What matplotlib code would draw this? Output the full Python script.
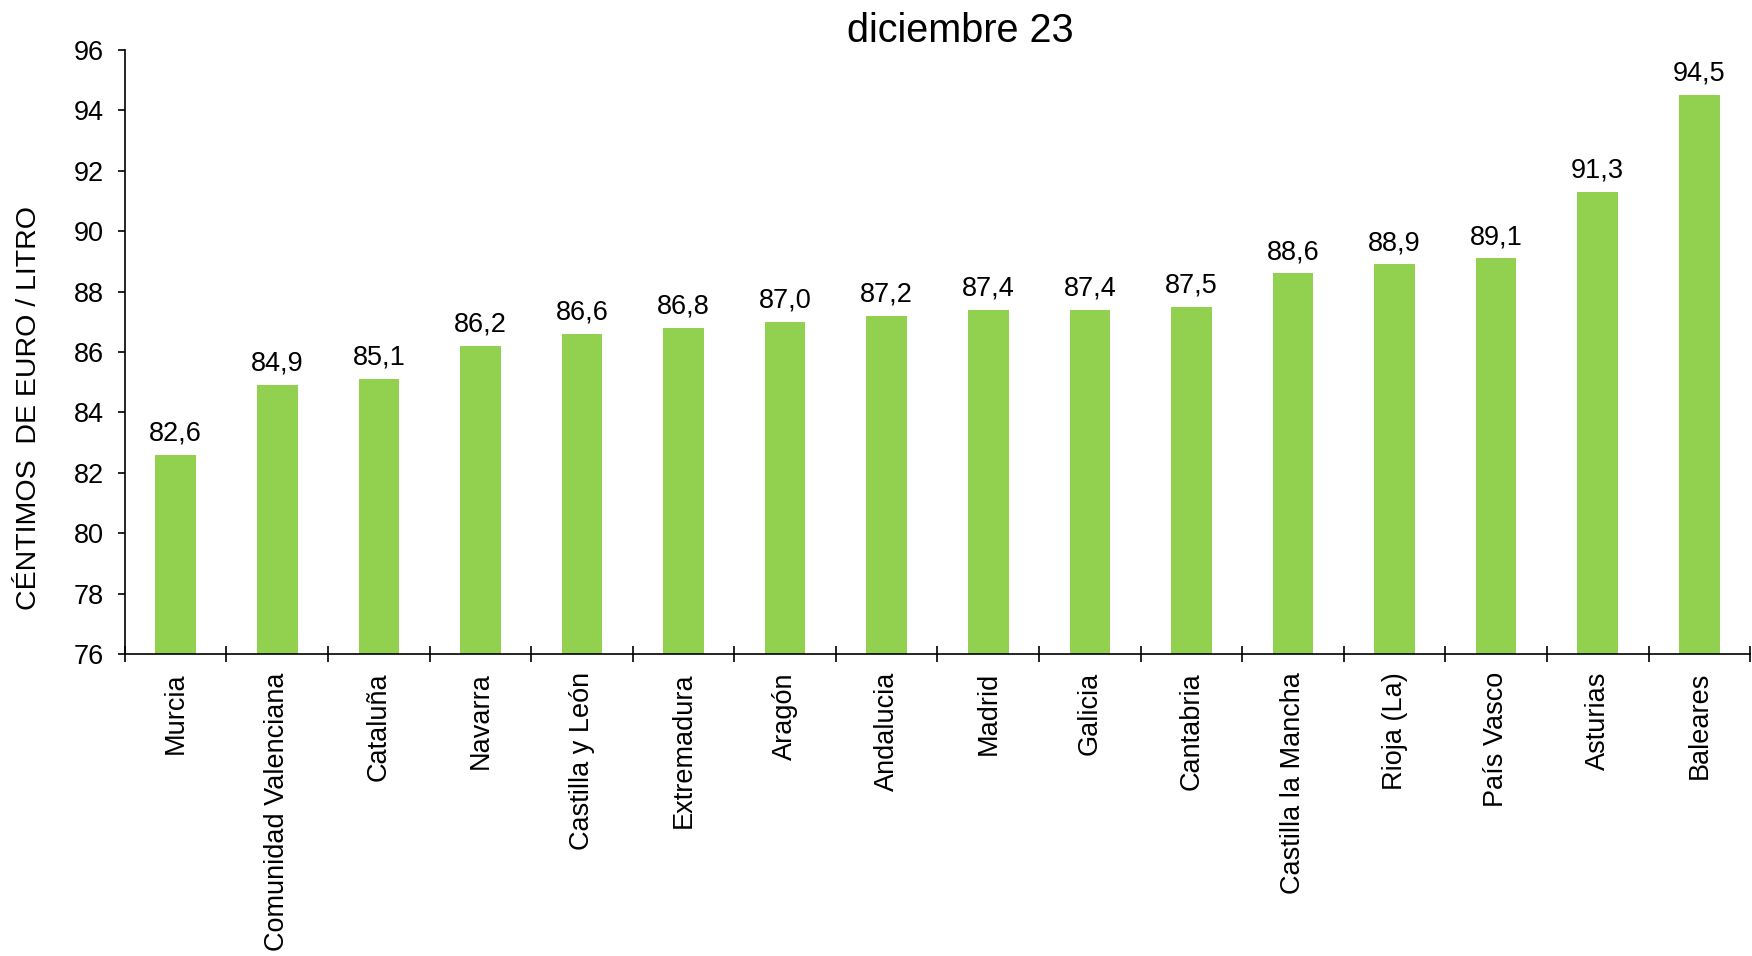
import matplotlib
matplotlib.use("Agg")
import matplotlib.pyplot as plt
import numpy as np

plt.rcParams['font.family'] = ['Liberation Sans', 'DejaVu Sans']

regiones = ["Murcia", "Comunidad Valenciana", "Cataluña", "Navarra",
            "Castilla y León", "Extremadura", "Aragón", "Andalucia",
            "Madrid", "Galicia", "Cantabria", "Castilla la Mancha",
            "Rioja (La)", "País Vasco", "Asturias", "Baleares"]
precios = [82.6, 84.9, 85.1, 86.2, 86.6, 86.8, 87.0, 87.2,
           87.4, 87.4, 87.5, 88.6, 88.9, 89.1, 91.3, 94.5]
yticks = [76, 78, 80, 82, 84, 86, 88, 90, 92, 94, 96]

fig = plt.figure(figsize=(17.52, 9.56), dpi=100)
ax = fig.add_axes([0.0713, 0.3159, 0.9276, 0.6318])

x = np.arange(len(regiones))
bars = ax.bar(x, precios, width=0.4, color="#92D050", zorder=2)

for xi, v in zip(x, precios):
    ax.annotate(f"{v:.1f}".replace(".", ","), (xi, v), xytext=(0, 6),
                textcoords="offset points", ha="center", va="bottom",
                fontsize=19.5)

ax.set_xlim(-0.5, len(regiones) - 0.5)
ax.set_ylim(76, 96)
ax.set_yticks(yticks)
ax.tick_params(axis="y", labelsize=19.5, direction="out", length=5,
               width=1.2, pad=10)

# category labels between boundary ticks
ax.set_xticks(np.arange(len(regiones) + 1) - 0.5)
ax.set_xticklabels([])
ax.set_xticks(x, minor=True)
ax.set_xticklabels(regiones, minor=True, rotation=90, fontsize=19.5,
                   va="top", ha="center")
ax.tick_params(axis="x", which="major", direction="inout", length=11,
               width=1.2)
ax.tick_params(axis="x", which="minor", length=0, pad=13)

for s in ["top", "right"]:
    ax.spines[s].set_visible(False)
ax.spines["left"].set_linewidth(1.2)
ax.spines["bottom"].set_linewidth(1.2)

fig.text(960 / 1752, 1 - 42 / 956, "diciembre 23", ha="center",
         va="baseline", fontsize=28.5)
fig.text(29 / 1752, 1 - 408 / 956, "CÉNTIMOS  DE EURO / LITRO",
         rotation=90, ha="center", va="center", fontsize=20.5)

fig.savefig("out.png", dpi=100)
